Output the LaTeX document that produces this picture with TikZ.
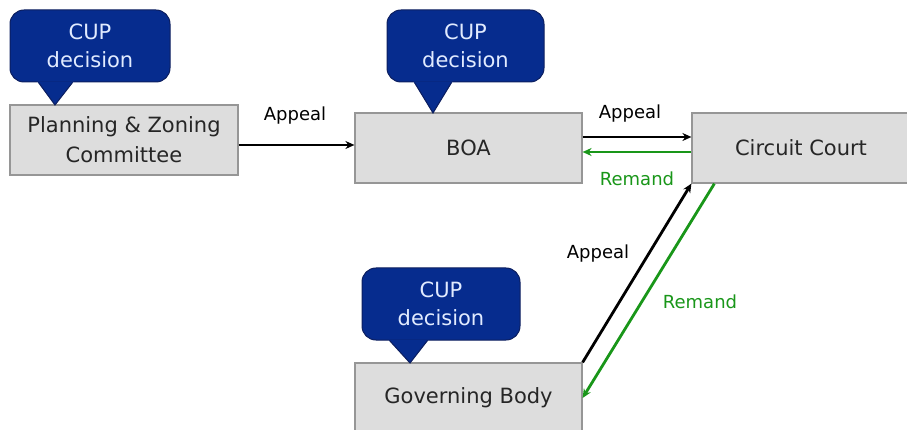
\documentclass[tikz,border=0pt]{standalone}
\usepackage{fontspec}
\setmainfont{DejaVu Sans}
\usetikzlibrary{calc,arrows.meta}
\definecolor{boxfill}{RGB}{221,221,221}
\definecolor{boxline}{RGB}{150,150,150}
\definecolor{calfill}{RGB}{6,44,142}
\definecolor{calline}{RGB}{12,30,95}
\definecolor{caltext}{RGB}{225,235,255}
\definecolor{remgreen}{RGB}{25,150,25}
\tikzset{
  stagebox/.style={draw=boxline, line width=1.2pt, fill=boxfill, minimum height=70pt,
    inner sep=0pt, align=center, text=black!85, font=\fontsize{21}{30}\selectfont},
  calbody/.style={draw=calline, line width=1pt, fill=calfill, rounded corners=14pt,
    minimum width=158pt, minimum height=72pt, inner sep=0pt, align=center,
    text=caltext, font=\fontsize{21}{28}\selectfont},
  arr/.style={line width=2.8pt, -{Stealth[length=9pt,width=8pt]}},
  remarr/.style={arr, draw=remgreen, color=remgreen},
  lbl/.style={font=\fontsize{18}{20}\selectfont, inner sep=0pt},
}
\begin{document}
\begin{tikzpicture}[x=1pt, y=-1pt]
\useasboundingbox (0,0) rectangle (907,430);
% boxes
\node[stagebox, minimum width=228pt] (pz) at (124,140) {Planning \& Zoning\\Committee};
\node[stagebox, minimum width=227pt] (boa) at (468.5,148) {BOA};
\node[stagebox, minimum width=218pt] (cc) at (801,148) {Circuit Court};
\node[stagebox, minimum width=227pt] (gb) at (468.5,398) {Governing Body};
% callouts
\node[calbody, minimum width=160pt] (c1) at (90,46) {CUP\\decision};
\node[calbody, minimum width=157pt] (c2) at (465.5,46) {CUP\\decision};
\node[calbody, minimum width=158pt] (c3) at (441,304) {CUP\\decision};
\coordinate (t1) at (55,105);
\coordinate (t2) at (433,113);
\coordinate (t3) at (410,363);
\fill[calfill] ($(c1.south west)+(28,-1)$) -- (t1) -- ($(c1.south west)+(64,-1)$) -- cycle;
\draw[calline, line width=1pt] ($(c1.south west)+(29,0)$) -- (t1) -- ($(c1.south west)+(63,0)$);
\fill[calfill] ($(c2.south west)+(27,-1)$) -- (t2) -- ($(c2.south west)+(66,-1)$) -- cycle;
\draw[calline, line width=1pt] ($(c2.south west)+(28,0)$) -- (t2) -- ($(c2.south west)+(65,0)$);
\fill[calfill] ($(c3.south west)+(27,-1)$) -- (t3) -- ($(c3.south west)+(67,-1)$) -- cycle;
\draw[calline, line width=1pt] ($(c3.south west)+(28,0)$) -- (t3) -- ($(c3.south west)+(66,0)$);
% arrows
\draw[arr] ($(pz.east)+(0,5)$) -- ($(boa.west)+(0,-3)$);
\draw[arr] ($(boa.east)+(0,-11)$) -- ($(cc.west)+(0,-11)$);
\draw[remarr] ($(cc.west)+(0,4)$) -- ($(boa.east)+(0,4)$);
\draw[arr] (gb.north east) -- (cc.south west);
\draw[remarr] ($(cc.south west)+(23,0)$) -- (gb.east);
% labels
\node[lbl] (l1) at (295,116) {Appeal};
\node[lbl] (l2) at (630,114) {Appeal};
\node[lbl, text=remgreen] (l3) at (637,179) {Remand};
\node[lbl] (l4) at (598,254) {Appeal};
\node[lbl, text=remgreen] (l5) at (700,302) {Remand};
\end{tikzpicture}
\end{document}
